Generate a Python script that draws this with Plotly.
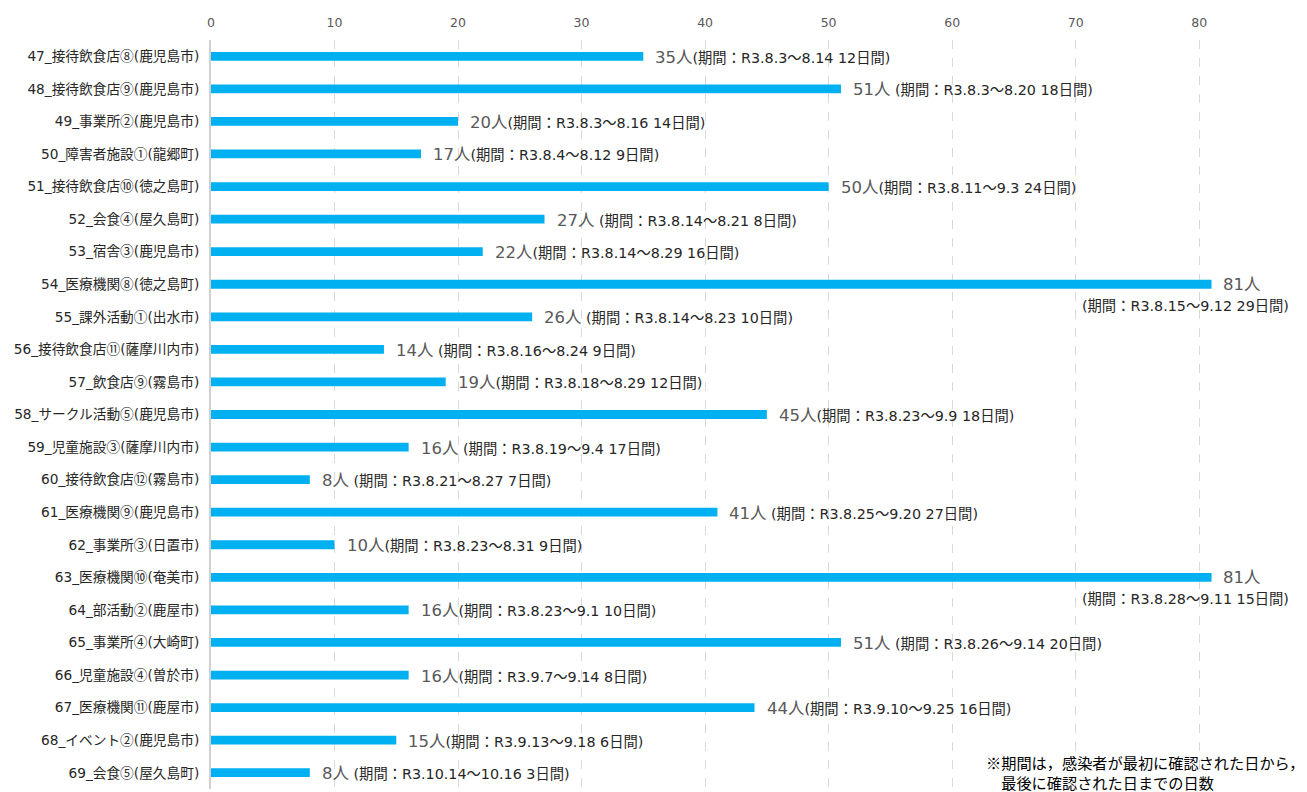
import plotly.graph_objects as go

categories = [
    "47_接待飲食店⑧(鹿児島市)", "48_接待飲食店⑨(鹿児島市)", "49_事業所②(鹿児島市)",
    "50_障害者施設①(龍郷町)", "51_接待飲食店⑩(徳之島町)", "52_会食④(屋久島町)",
    "53_宿舎③(鹿児島市)", "54_医療機関⑧(徳之島町)", "55_課外活動①(出水市)",
    "56_接待飲食店⑪(薩摩川内市)", "57_飲食店⑨(霧島市)", "58_サークル活動⑤(鹿児島市)",
    "59_児童施設③(薩摩川内市)", "60_接待飲食店⑫(霧島市)", "61_医療機関⑨(鹿児島市)",
    "62_事業所③(日置市)", "63_医療機関⑩(奄美市)", "64_部活動②(鹿屋市)",
    "65_事業所④(大崎町)", "66_児童施設④(曽於市)", "67_医療機関⑪(鹿屋市)",
    "68_イベント②(鹿児島市)", "69_会食⑤(屋久島町)",
]
values = [35, 51, 20, 17, 50, 27, 22, 81, 26, 14, 19, 45, 16, 8, 41, 10, 81, 16, 51, 16, 44, 15, 8]
periods = [
    "(期間：R3.8.3～8.14 12日間)", " (期間：R3.8.3～8.20 18日間)", "(期間：R3.8.3～8.16 14日間)",
    "(期間：R3.8.4～8.12 9日間)", "(期間：R3.8.11～9.3 24日間)", " (期間：R3.8.14～8.21 8日間)",
    "(期間：R3.8.14～8.29 16日間)", "(期間：R3.8.15～9.12 29日間)", " (期間：R3.8.14～8.23 10日間)",
    " (期間：R3.8.16～8.24 9日間)", "(期間：R3.8.18～8.29 12日間)", "(期間：R3.8.23～9.9 18日間)",
    " (期間：R3.8.19～9.4 17日間)", " (期間：R3.8.21～8.27 7日間)", " (期間：R3.8.25～9.20 27日間)",
    "(期間：R3.8.23～8.31 9日間)", "(期間：R3.8.28～9.11 15日間)", "(期間：R3.8.23～9.1 10日間)",
    " (期間：R3.8.26～9.14 20日間)", "(期間：R3.9.7～9.14 8日間)", "(期間：R3.9.10～9.25 16日間)",
    "(期間：R3.9.13～9.18 6日間)", " (期間：R3.10.14～10.16 3日間)",
]
tick_vals = [0, 10, 20, 30, 40, 50, 60, 70, 80]
footnote = "※期間は，感染者が最初に確認された日から，<br>　最後に確認された日までの日数"

FONT = "DejaVu Sans, Noto Sans CJK JP, sans-serif"
CJK = "Noto Sans CJK JP, sans-serif"
# page has an 8px body margin; figure sized to fit the window
W, H = 1299, 784
ML, MR, MT, MB = 203, 9, 32, 3


def circled_cjk(s):
    out = []
    for ch in s:
        if 0x2460 <= ord(ch) <= 0x2473:
            out.append(f"<span style='font-family:Noto Sans CJK JP'>{ch}</span>")
        else:
            out.append(ch)
    return "".join(out)


fig = go.Figure(go.Bar(
    x=values, y=categories, orientation="h",
    marker=dict(color="#00B0F0", line=dict(width=0)),
    width=0.27, hoverinfo="skip",
))

NUM_SIZE = 16.5
PER_SIZE = 14.3

annotations = []
for cat, v, p in zip(categories, values, periods):
    num = f"<span style='font-size:{NUM_SIZE}px;color:#595959'>{v}人</span>"
    if v >= 80:
        annotations.append(dict(x=v, y=cat, xref="x", yref="y", text=num, showarrow=False,
                                xanchor="left", yanchor="middle", xshift=9, yshift=0,
                                font=dict(family=FONT, size=NUM_SIZE, color="#595959")))
        annotations.append(dict(x=v, y=cat, xref="x", yref="y", text=p.strip(), showarrow=False,
                                xanchor="left", yanchor="middle", xshift=-132, yshift=-22,
                                font=dict(family=FONT, size=PER_SIZE, color="#262626")))
    else:
        txt = num + f"<span style='font-size:{PER_SIZE}px;color:#262626'>{p}</span>"
        annotations.append(dict(x=v, y=cat, xref="x", yref="y", text=txt, showarrow=False,
                                xanchor="left", yanchor="middle", xshift=10, yshift=-1,
                                font=dict(family=FONT, size=PER_SIZE, color="#262626")))

plot_w = W - ML - MR
plot_h = H - MT - MB
annotations.append(dict(x=(976 - ML) / plot_w, y=(H - MB - 764) / plot_h,
                        xref="paper", yref="paper", text=footnote,
                        showarrow=False, xanchor="left", yanchor="middle", align="left",
                        font=dict(family=CJK, size=15.2, color="#000000")))

fig.update_layout(
    width=W, height=H,
    margin=dict(l=ML, r=MR, t=MT, b=MB),
    plot_bgcolor="white", paper_bgcolor="white",
    showlegend=False,
    font=dict(family=FONT, size=13, color="#262626"),
    xaxis=dict(side="top", range=[0, 88], tickvals=tick_vals, showgrid=True,
               gridcolor="#D9D9D9", griddash="dash", gridwidth=1, zeroline=False,
               showline=False, tickfont=dict(family=FONT, size=12.5, color="#595959"),
               ticks="", ticklabelstandoff=10, automargin=False),
    yaxis=dict(autorange="reversed", showline=True, linecolor="#D0D0D0", linewidth=2,
               ticks="", tickfont=dict(family=FONT, size=13.7, color="#262626"),
               tickvals=categories, ticktext=[circled_cjk(c) for c in categories],
               ticklabelstandoff=7, automargin=False),
    annotations=annotations,
)

fig.write_html("out.html")
